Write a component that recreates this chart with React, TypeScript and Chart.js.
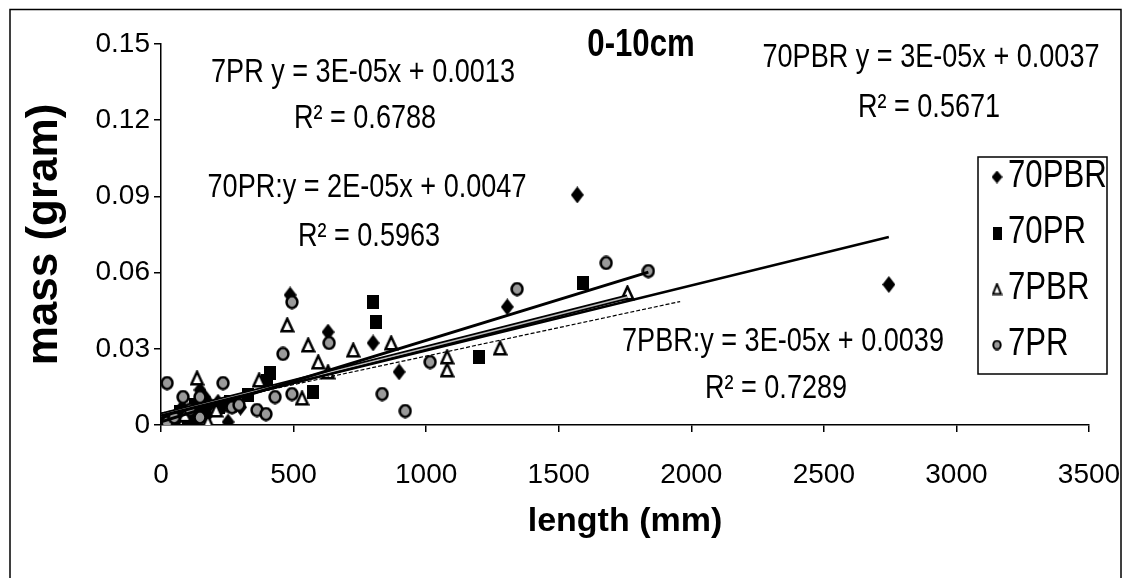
import React, { useEffect, useRef } from "react";
import { Chart, registerables } from "chart.js";

Chart.register(...registerables);

// ---------- data ----------
const seriesNames = ["70PBR", "70PR", "7PBR", "7PR"];

const x70PBR = [20, 60, 80, 117, 147, 165, 175, 185, 215, 253, 300, 487, 630, 800, 898, 1306, 1570, 2745];
const y70PBR = [0.001, 0.002, 0.007, 0.0008, 0.0138, 0.011, 0.004, 0.008, 0.009, 0.0012, 0.007, 0.0512, 0.0366, 0.0323, 0.0209, 0.0465, 0.0906, 0.0553];

const x70PR = [15, 50, 70, 100, 120, 130, 160, 220, 260, 330, 400, 411, 574, 800, 811, 1200, 1593];
const y70PR = [0.0005, 0.002, 0.005, 0.003, 0.001, 0.008, 0.005, 0.007, 0.009, 0.012, 0.0175, 0.0205, 0.013, 0.0484, 0.0406, 0.0268, 0.0559];

const x7PBR = [30, 90, 136, 177, 208, 260, 370, 476, 532, 555, 593, 630, 725, 868, 1079, 1079, 1279, 1759];
const y7PBR = [0.002, 0.004, 0.0185, 0.0012, 0.0059, 0.008, 0.0177, 0.0394, 0.0106, 0.0315, 0.0248, 0.0209, 0.0295, 0.0323, 0.0268, 0.0217, 0.0303, 0.052];

const x7PR = [23, 23, 50, 83, 110, 147, 147, 234, 268, 294, 362, 396, 430, 460, 494, 494, 634, 834, 921, 1015, 1343, 1679, 1838];
const y7PR = [0.0165, 0.001, 0.003, 0.011, 0.006, 0.011, 0.003, 0.0165, 0.007, 0.0079, 0.0059, 0.0043, 0.011, 0.028, 0.0484, 0.0122, 0.0323, 0.0122, 0.0055, 0.0248, 0.0535, 0.0638, 0.0606];

// trendline end points (as drawn in the picture)
const trend70PBRx = [0, 2745];
const trend70PBRy = [0.0037, 0.074];
const trend70PRx = [0, 1958];
const trend70PRy = [0.0047, 0.0486];
const trend7PBRx = [0, 1759];
const trend7PBRy = [0.0039, 0.0504];
const trend7PRx = [0, 1838];
const trend7PRy = [0.0013, 0.0602];

const xTickLabels = ["0", "500", "1000", "1500", "2000", "2500", "3000", "3500"];
const yTickLabels = ["0", "0.03", "0.06", "0.09", "0.12", "0.15"];

const equationLines = [
  "7PR y = 3E-05x + 0.0013",
  "R² = 0.6788",
  "70PR:y = 2E-05x + 0.0047",
  "R² = 0.5963",
  "70PBR y = 3E-05x + 0.0037",
  "R² = 0.5671",
  "7PBR:y = 3E-05x + 0.0039",
  "R² = 0.7289",
];
const chartLabel = "0-10cm";
const xTitle = "length (mm)";
const yTitle = "mass (gram)";

const FONT = "'Liberation Sans', Arial, sans-serif";
const SQUEEZE = 0.82;

const toPts = (xs: number[], ys: number[]) => xs.map((x, i) => ({ x, y: ys[i] }));

function makeMarker(kind: string, w: number, h: number, lw = 2.5): HTMLCanvasElement {
  const c = document.createElement("canvas");
  c.width = w;
  c.height = h;
  const g = c.getContext("2d")!;
  if (kind === "diamond") {
    g.beginPath();
    g.moveTo(w / 2, 0);
    g.lineTo(w, h / 2);
    g.lineTo(w / 2, h);
    g.lineTo(0, h / 2);
    g.closePath();
    g.fillStyle = "#000";
    g.fill();
  } else if (kind === "square") {
    g.fillStyle = "#000";
    g.fillRect(0, 0, w, h);
  } else if (kind === "triangle") {
    const p = lw / 2 + 0.5;
    g.beginPath();
    g.moveTo(w / 2, p);
    g.lineTo(w - p, h - p);
    g.lineTo(p, h - p);
    g.closePath();
    g.fillStyle = "#fff";
    g.fill();
    g.lineWidth = lw;
    g.strokeStyle = "#000";
    g.stroke();
  } else {
    const p = lw / 2 + 0.3;
    g.beginPath();
    g.ellipse(w / 2, h / 2, w / 2 - p, h / 2 - p, 0, 0, Math.PI * 2);
    g.fillStyle = "#9a9a9a";
    g.fill();
    g.lineWidth = lw;
    g.strokeStyle = "#000";
    g.stroke();
  }
  return c;
}

function squeezedText(ctx: CanvasRenderingContext2D, t: string, x: number, y: number) {
  ctx.save();
  ctx.translate(x, y);
  ctx.scale(SQUEEZE, 1);
  ctx.fillText(t, 0, 0);
  ctx.restore();
}

export default function App() {
  const ref = useRef<HTMLCanvasElement | null>(null);

  useEffect(() => {
    if (!ref.current) return;

    const mDiamond = makeMarker("diamond", 13, 17);
    const mSquare = makeMarker("square", 12, 14);
    const mTri = makeMarker("triangle", 15, 16);
    const mCirc = makeMarker("circle", 14, 15);
    const legendMarkers = [
      makeMarker("diamond", 11, 13),
      makeMarker("square", 9, 13),
      makeMarker("triangle", 11, 13, 2),
      makeMarker("circle", 10, 11, 2),
    ];

    const annot = {
      id: "annot",
      beforeDraw(chart: any) {
        const ctx = chart.ctx;
        ctx.save();
        ctx.fillStyle = "#fff";
        ctx.fillRect(0, 0, chart.width, chart.height);
        ctx.restore();
      },
      afterDraw(chart: any) {
        const ctx = chart.ctx;
        ctx.save();
        // outer frame
        ctx.strokeStyle = "#000";
        ctx.lineWidth = 1.5;
        ctx.strokeRect(10, 9.5, 1111, 600);

        // equations
        ctx.fillStyle = "#000";
        ctx.font = `33px ${FONT}`;
        ctx.textAlign = "center";
        ctx.textBaseline = "middle";
        const pos = [
          [363, 73], [365, 119],
          [367, 188], [369, 237],
          [931, 58], [929, 108],
          [783, 342], [776, 389],
        ];
        equationLines.forEach((t, i) => squeezedText(ctx, t, pos[i][0], pos[i][1]));

        // chart label
        ctx.font = `bold 38px ${FONT}`;
        squeezedText(ctx, chartLabel, 641, 46);

        // legend
        ctx.lineWidth = 1.5;
        ctx.strokeRect(978, 157, 129, 217);
        ctx.font = `38px ${FONT}`;
        ctx.textAlign = "left";
        const ly = [177, 233, 289, 345];
        seriesNames.forEach((n, i) => {
          const m = legendMarkers[i];
          ctx.drawImage(m, 997 - m.width / 2, ly[i] - m.height / 2);
          squeezedText(ctx, n, 1008, ly[i]);
        });
        ctx.restore();
      },
    };

    const scatter = (label: string, xs: number[], ys: number[], style: HTMLCanvasElement, order: number) => ({
      type: "scatter" as const,
      label,
      data: toPts(xs, ys),
      pointStyle: style,
      pointRadius: 7,
      showLine: false,
      order,
    });
    const trend = (label: string, xs: number[], ys: number[], color: string, width: number, dash: number[], order: number) => ({
      type: "scatter" as const,
      label,
      data: toPts(xs, ys),
      showLine: true,
      pointRadius: 0,
      borderColor: color,
      borderWidth: width,
      borderDash: dash,
      fill: false,
      order,
    });

    const chart = new Chart(ref.current, {
      type: "scatter",
      data: {
        datasets: [
          trend("7PR trend", trend7PRx, trend7PRy, "#000", 3, [], 0),
          trend("70PBR trend", trend70PBRx, trend70PBRy, "#000", 2.5, [], 0),
          trend("7PBR trend inner", trend7PBRx, trend7PBRy, "#bbb", 1.5, [], 0),
          trend("7PBR trend", trend7PBRx, trend7PBRy, "#000", 5, [], 0.5),
          trend("70PR trend", trend70PRx, trend70PRy, "#000", 1.2, [4, 2], 0),
          scatter("7PR", x7PR, y7PR, mCirc, 1),
          scatter("7PBR", x7PBR, y7PBR, mTri, 2),
          scatter("70PR", x70PR, y70PR, mSquare, 3),
          scatter("70PBR", x70PBR, y70PBR, mDiamond, 4),
        ] as any,
      },
      options: {
        animation: false,
        responsive: false,
        maintainAspectRatio: false,
        layout: { padding: { top: 44, right: 36, left: 0, bottom: 0 } },
        plugins: { legend: { display: false }, tooltip: { enabled: false } },
        scales: {
          x: {
            type: "linear",
            min: 0,
            max: 3500,
            afterFit: (s: any) => {
              s.height = 153;
              s.paddingLeft = 0;
              s.paddingRight = 0;
            },
            ticks: {
              stepSize: 500,
              color: "#000",
              font: { family: FONT, size: 28 },
              padding: 26,
              maxRotation: 0,
              callback: (_v: any, i: number) => xTickLabels[i],
            },
            grid: { drawOnChartArea: false, drawTicks: true, tickLength: 7, color: "#000", lineWidth: 1.5 },
            border: { display: true, color: "#000", width: 1.5 },
            title: {
              display: true,
              text: xTitle,
              color: "#000",
              font: { family: FONT, size: 34, weight: "bold" },
              padding: { top: 0, bottom: 36 },
            },
          },
          y: {
            type: "linear",
            min: 0,
            max: 0.15,
            afterFit: (s: any) => {
              s.width = 161;
              s.paddingTop = 0;
              s.paddingBottom = 0;
            },
            ticks: {
              stepSize: 0.03,
              color: "#000",
              font: { family: FONT, size: 28 },
              padding: 4,
              callback: (_v: any, i: number) => yTickLabels[i],
            },
            grid: { drawOnChartArea: false, drawTicks: true, tickLength: 7, color: "#000", lineWidth: 1.5 },
            border: { display: true, color: "#000", width: 1.5 },
            title: {
              display: true,
              text: yTitle,
              color: "#000",
              font: { family: FONT, size: 44, weight: "bold" },
              padding: { top: 18, bottom: 0 },
            },
          },
        },
      } as any,
      plugins: [annot],
    });
    return () => chart.destroy();
  }, []);

  return (
    <div style={{ position: "absolute", left: 0, top: 0, width: 1125, height: 578, background: "#fff" }}>
      <canvas ref={ref} width={1125} height={578} style={{ display: "block", width: 1125, height: 578 }} />
    </div>
  );
}
